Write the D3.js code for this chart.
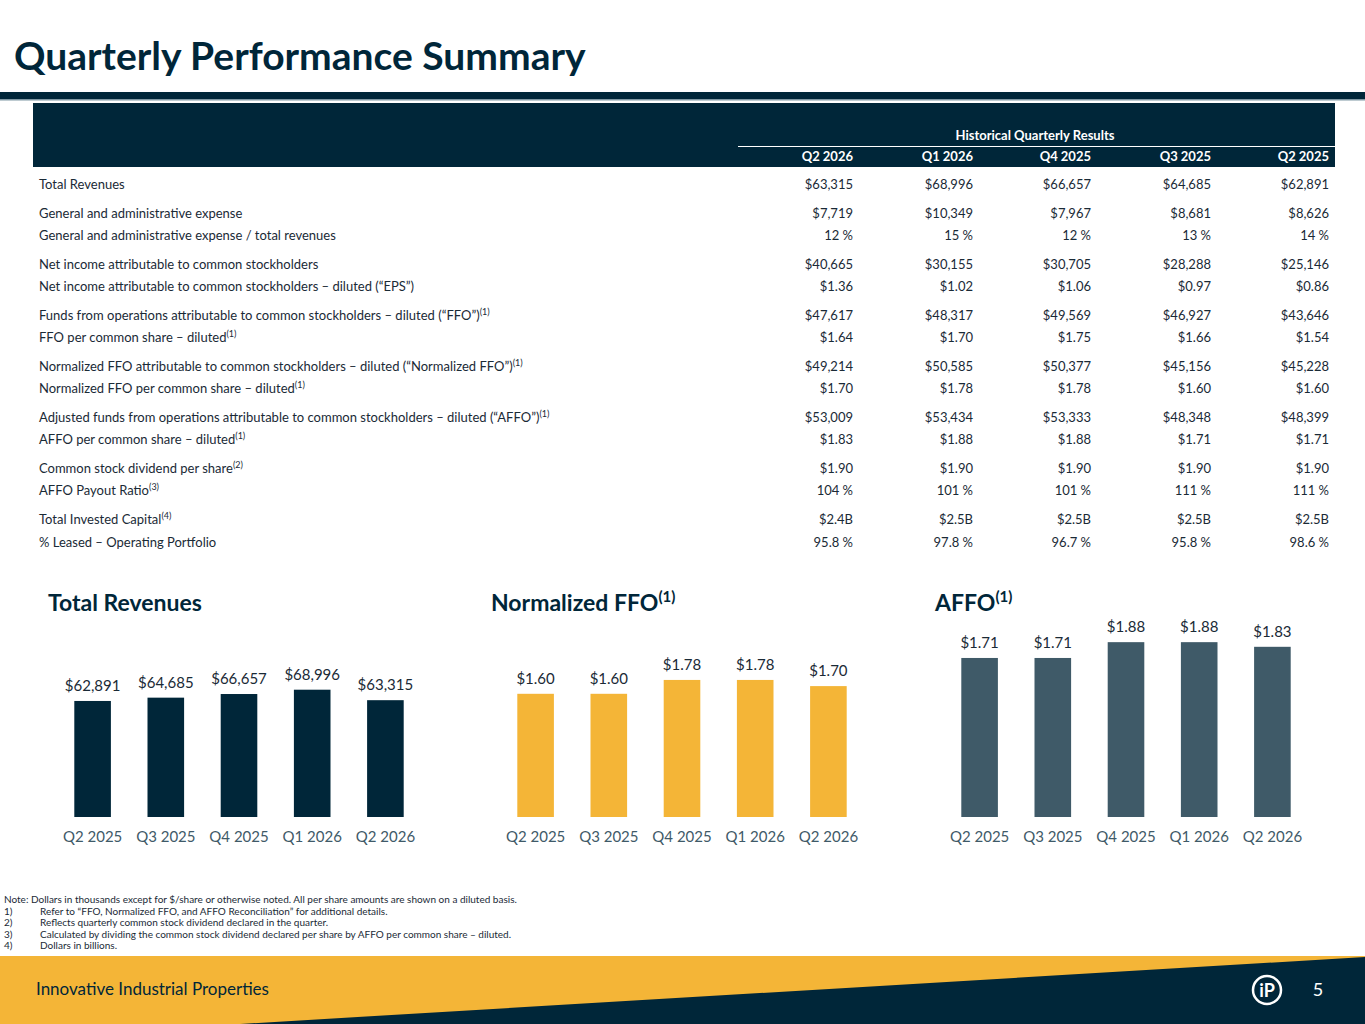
<!DOCTYPE html>
<html><head><meta charset="utf-8">
<script src="https://cdn.jsdelivr.net/npm/d3@7/dist/d3.min.js"></script>
<style>body{margin:0;background:#fff}svg{display:block;font-family:Lato,"Open Sans",sans-serif}</style>
</head><body><svg id="c" width="1365" height="1024"></svg>
<script>
const columns = ["Q2 2026","Q1 2026","Q4 2025","Q3 2025","Q2 2025"];
const rowLabels = [
 ["Total Revenues",""],
 ["General and administrative expense",""],
 ["General and administrative expense / total revenues",""],
 ["Net income attributable to common stockholders",""],
 ["Net income attributable to common stockholders – diluted (“EPS”)",""],
 ["Funds from operations attributable to common stockholders – diluted (“FFO”)","(1)"],
 ["FFO per common share – diluted","(1)"],
 ["Normalized FFO attributable to common stockholders – diluted (“Normalized FFO”)","(1)"],
 ["Normalized FFO per common share – diluted","(1)"],
 ["Adjusted funds from operations attributable to common stockholders – diluted (“AFFO”)","(1)"],
 ["AFFO per common share – diluted","(1)"],
 ["Common stock dividend per share","(2)"],
 ["AFFO Payout Ratio","(3)"],
 ["Total Invested Capital","(4)"],
 ["% Leased – Operating Portfolio",""]
];
const rowValues = [
 ["$63,315","$68,996","$66,657","$64,685","$62,891"],
 ["$7,719","$10,349","$7,967","$8,681","$8,626"],
 ["12 %","15 %","12 %","13 %","14 %"],
 ["$40,665","$30,155","$30,705","$28,288","$25,146"],
 ["$1.36","$1.02","$1.06","$0.97","$0.86"],
 ["$47,617","$48,317","$49,569","$46,927","$43,646"],
 ["$1.64","$1.70","$1.75","$1.66","$1.54"],
 ["$49,214","$50,585","$50,377","$45,156","$45,228"],
 ["$1.70","$1.78","$1.78","$1.60","$1.60"],
 ["$53,009","$53,434","$53,333","$48,348","$48,399"],
 ["$1.83","$1.88","$1.88","$1.71","$1.71"],
 ["$1.90","$1.90","$1.90","$1.90","$1.90"],
 ["104 %","101 %","101 %","111 %","111 %"],
 ["$2.4B","$2.5B","$2.5B","$2.5B","$2.5B"],
 ["95.8 %","97.8 %","96.7 %","95.8 %","98.6 %"]
];
const rowY = [185,214,236,265,287,316,338,367,389,418,440,469,491,520,543];
const chartQuarters = ["Q2 2025","Q3 2025","Q4 2025","Q1 2026","Q2 2026"];
const revenues = [62891,64685,66657,68996,63315];
const normFFO = [1.60,1.60,1.78,1.78,1.70];
const affo = [1.71,1.71,1.88,1.88,1.83];
const notes = ["Note: Dollars in thousands except for $/share or otherwise noted. All per share amounts are shown on a diluted basis.",
 "1)|Refer to “FFO, Normalized FFO, and AFFO Reconciliation” for additional details.",
 "2)|Reflects quarterly common stock dividend declared in the quarter.",
 "3)|Calculated by dividing the common stock dividend declared per share by AFFO per common share – diluted.",
 "4)|Dollars in billions."];

const NAVY="#002639", TXT="#1a2a36", AX="#3f5a68";
const svg=d3.select("#c");
svg.append("text").attr("x",14).attr("y",70).attr("font-size",39).attr("font-weight",700).attr("fill",NAVY).text("Quarterly Performance Summary");
svg.append("rect").attr("x",0).attr("y",92).attr("width",1365).attr("height",7).attr("fill",NAVY);
svg.append("rect").attr("x",0).attr("y",99).attr("width",1365).attr("height",1.5).attr("fill","#7f97a3");
svg.append("rect").attr("x",33).attr("y",103).attr("width",1302).attr("height",64).attr("fill",NAVY);
svg.append("text").attr("x",1035).attr("y",140).attr("text-anchor","middle").attr("font-size",13).attr("font-weight",700).attr("fill","#fff").text("Historical Quarterly Results");
svg.append("line").attr("x1",738).attr("x2",1335).attr("y1",146.5).attr("y2",146.5).attr("stroke","#fff").attr("stroke-width",1);
const colX=[853,973,1091,1211,1329];
columns.forEach((c,i)=>svg.append("text").attr("x",colX[i]).attr("y",161).attr("text-anchor","end").attr("font-size",13).attr("font-weight",700).attr("fill","#fff").text(c));
rowLabels.forEach((r,i)=>{
  const t=svg.append("text").attr("x",39).attr("y",rowY[i]+4).attr("font-size",13).attr("fill",TXT).text(r[0]);
  if(r[1]) t.append("tspan").attr("font-size",9).attr("dy",-5).text(r[1]);
  rowValues[i].forEach((v,j)=>svg.append("text").attr("x",colX[j]).attr("y",rowY[i]+4).attr("text-anchor","end").attr("font-size",13).attr("fill",TXT).text(v));
});

function chart(x0,title,vals,color,k,fmt){
  const t=svg.append("text").attr("x",x0-45).attr("y",611).attr("font-size",23).attr("font-weight",700).attr("fill",NAVY).text(title[0]);
  if(title[1]) t.append("tspan").attr("font-size",15).attr("dy",-9).text(title[1]);
  const x=d3.scaleBand().domain(chartQuarters).range([x0-37,x0+329]).paddingInner(0.5).paddingOuter(0.25);
  const y=d3.scaleLinear().domain([0,1]).range([817,817-k]);
  const g=svg.append("g");
  g.selectAll("rect").data(vals).join("rect").attr("x",(d,i)=>x(chartQuarters[i])).attr("width",x.bandwidth())
   .attr("y",d=>y(d)).attr("height",d=>817-y(d)).attr("fill",color);
  g.selectAll("text.v").data(vals).join("text").attr("x",(d,i)=>x(chartQuarters[i])+x.bandwidth()/2).attr("y",d=>y(d)-10)
   .attr("text-anchor","middle").attr("font-size",15).attr("fill",TXT).text(fmt);
  const ax=g.append("g").attr("transform","translate(0,817)").call(d3.axisBottom(x).tickSize(0).tickPadding(14));
  ax.select(".domain").remove();
  ax.selectAll("text").attr("font-size",15).attr("fill",AX).attr("font-family","Lato,sans-serif");
}
chart(93,["Total Revenues",""],revenues,NAVY,0.001845,d=>"$"+d3.format(",")(d));
chart(536,["Normalized FFO","(1)"],normFFO,"#f4b537",77,d=>"$"+d.toFixed(2));
chart(980,["AFFO","(1)"],affo,"#3f5a68",93,d=>"$"+d.toFixed(2));

notes.forEach((n,i)=>{
  const p=n.split("|"); const y=903+i*11.5;
  svg.append("text").attr("x",4).attr("y",y).attr("font-size",10).attr("fill",TXT).text(p[0]);
  if(p[1]) svg.append("text").attr("x",40).attr("y",y).attr("font-size",10).attr("fill",TXT).text(p[1]);
});
svg.append("rect").attr("x",0).attr("y",956).attr("width",1365).attr("height",68).attr("fill","#f4b537");
svg.append("polygon").attr("points","240,1024 1365,957 1365,1024").attr("fill",NAVY);
svg.append("text").attr("x",36).attr("y",995).attr("font-size",17).attr("fill",NAVY).text("Innovative Industrial Properties");
svg.append("circle").attr("cx",1267).attr("cy",990).attr("r",14).attr("fill","none").attr("stroke","#fff").attr("stroke-width",2.5);
svg.append("text").attr("x",1267).attr("y",997).attr("text-anchor","middle").attr("font-size",18).attr("font-weight",700).attr("fill","#fff").text("iP");
svg.append("text").attr("x",1318).attr("y",996).attr("text-anchor","middle").attr("font-size",18).attr("fill","#fff").text("5");
</script></body></html>
